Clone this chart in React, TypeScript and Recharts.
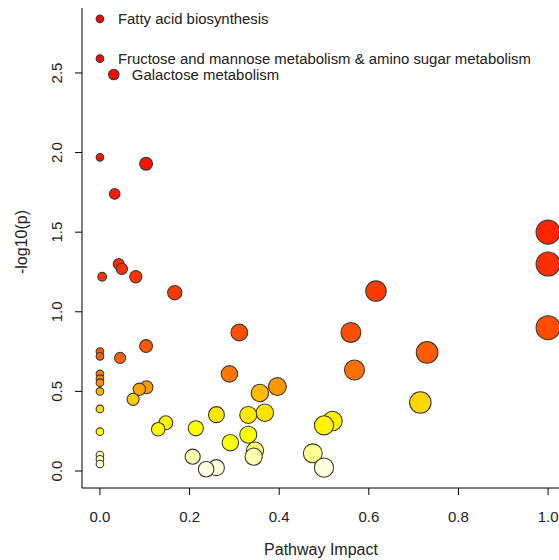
import { ScatterChart, Scatter, XAxis, YAxis } from "recharts";

// pathway impact (x) and -log10(p) (y)
const impact = [
  0.0, 0.0, 0.031, 0.0, 0.103, 0.033, 1.0, 1.0, 0.042, 0.049, 0.005, 0.08,
  0.616, 0.167, 1.0, 0.311, 0.56, 0.103, 0.0, 0.73, 0.0, 0.045, 0.568, 0.289,
  0.0, 0.0, 0.0, 0.396, 0.104, 0.088, 0.0, 0.357, 0.074, 0.715, 0.0, 0.368,
  0.26, 0.331, 0.519, 0.147, 0.5, 0.214, 0.13, 0.0, 0.331, 0.291, 0.346,
  0.475, 0.0, 0.207, 0.343, 0.0, 0.0, 0.26, 0.5, 0.237,
];
const logP = [
  2.84, 2.59, 2.49, 1.97, 1.93, 1.74, 1.5, 1.3, 1.3, 1.27, 1.22, 1.22, 1.13,
  1.12, 0.9, 0.87, 0.87, 0.785, 0.75, 0.745, 0.72, 0.71, 0.634, 0.61, 0.61,
  0.58, 0.555, 0.53, 0.526, 0.513, 0.5, 0.49, 0.45, 0.43, 0.39, 0.366, 0.354,
  0.352, 0.314, 0.303, 0.287, 0.268, 0.262, 0.247, 0.228, 0.178, 0.128, 0.111,
  0.1, 0.09, 0.09, 0.073, 0.044, 0.021, 0.021, 0.011,
];
// labels for the first three pathways
const pathwayLabels = [
  "Fatty acid biosynthesis",
  "Fructose and mannose metabolism & amino sugar metabolism",
  "Galactose metabolism",
];
const xTicks = [0, 0.2, 0.4, 0.6, 0.8, 1.0];
const yTicks = [0, 0.5, 1.0, 1.5, 2.0, 2.5];

const data = impact.map((x, i) => ({ x, y: logP[i], name: pathwayLabels[i] ?? "" }));

const X_MIN = -0.04;
const X_MAX = 1.04;
const Y_MIN = -0.1068;
const Y_MAX = 2.908;
const FONT = "'Liberation Sans', Arial, sans-serif";

// heat-colour ramp, red (significant) -> pale yellow
const stops: [number, number[]][] = [
  [0.0, [255, 255, 232]],
  [0.09, [255, 255, 176]],
  [0.12, [255, 255, 128]],
  [0.17, [255, 255, 16]],
  [0.25, [255, 255, 0]],
  [0.35, [255, 232, 0]],
  [0.43, [255, 213, 0]],
  [0.49, [255, 187, 0]],
  [0.53, [255, 149, 0]],
  [0.63, [255, 112, 0]],
  [0.75, [255, 90, 0]],
  [0.87, [255, 80, 0]],
  [1.2, [255, 51, 0]],
  [1.5, [255, 37, 0]],
  [1.9, [255, 21, 0]],
  [2.8, [255, 0, 0]],
];

function heat(v: number) {
  if (v <= stops[0][0]) return `rgb(${stops[0][1].join(",")})`;
  for (let i = 1; i < stops.length; i++) {
    if (v <= stops[i][0]) {
      const [a, ca] = stops[i - 1];
      const [b, cb] = stops[i];
      const t = (v - a) / (b - a);
      const c = ca.map((k, j) => Math.round(k + (cb[j] - k) * t));
      return `rgb(${c.join(",")})`;
    }
  }
  return "rgb(255,0,0)";
}

const Bubble = (props: any) => {
  const { cx, cy, payload } = props;
  const r = 3.8 + 8.2 * Math.sqrt(payload.x);
  return (
    <g>
      <circle cx={cx} cy={cy} r={r} fill={heat(payload.y)} stroke="#3a3a3a" strokeWidth={1.1} />
      {payload.name && (
        <text x={cx + 18} y={cy + 5} fontSize={14.9} fontFamily={FONT} fill="#222">
          {payload.name}
        </text>
      )}
    </g>
  );
};

const XTick = ({ x, y, payload }: any) => (
  <text x={x} y={y + 27} textAnchor="middle" fontSize={15} fontFamily={FONT} fill="#222">
    {payload.value.toFixed(1)}
  </text>
);

const YTick = ({ y, payload }: any) => (
  <text
    x={62}
    y={y}
    transform={`rotate(-90, 62, ${y})`}
    textAnchor="middle"
    fontSize={15}
    fontFamily={FONT}
    fill="#222"
  >
    {payload.value.toFixed(1)}
  </text>
);

export default function App() {
  return (
    <div
      style={{
        position: "fixed",
        top: 0,
        left: 0,
        width: 559,
        height: 560,
        overflow: "hidden",
        background: "#fff",
      }}
    >
      <ScatterChart width={566} height={560} margin={{ top: 8, right: 0, bottom: 0, left: 0 }}>
        <XAxis
          type="number"
          dataKey="x"
          domain={[X_MIN, X_MAX]}
          ticks={xTicks}
          allowDataOverflow
          axisLine={{ stroke: "#000" }}
          stroke="#000"
          tickLine={{ stroke: "#000" }}
          tickSize={7}
          tickMargin={0}
          height={72}
          tick={<XTick />}
          label={{
            content: () => (
              <text x={321} y={555} textAnchor="middle" fontSize={16} fontFamily={FONT} fill="#222">
                Pathway Impact
              </text>
            ),
          }}
        />
        <YAxis
          type="number"
          dataKey="y"
          domain={[Y_MIN, Y_MAX]}
          ticks={yTicks}
          allowDataOverflow
          axisLine={{ stroke: "#000" }}
          stroke="#000"
          tickLine={{ stroke: "#000" }}
          tickSize={7}
          tickMargin={0}
          width={82}
          tick={<YTick />}
          label={{
            content: () => (
              <text
                x={27}
                y={242}
                transform="rotate(-90, 27, 242)"
                textAnchor="middle"
                fontSize={16}
                fontFamily={FONT}
                fill="#222"
              >
                -log10(p)
              </text>
            ),
          }}
        />
        <Scatter data={data} shape={<Bubble />} isAnimationActive={false} />
      </ScatterChart>
    </div>
  );
}
